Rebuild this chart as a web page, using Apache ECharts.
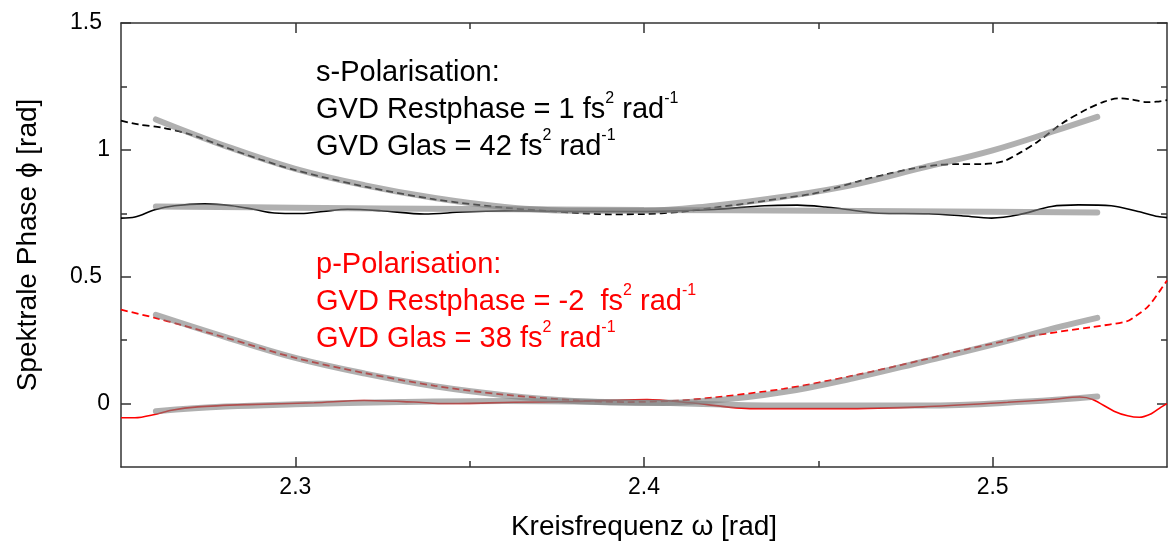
<!DOCTYPE html>
<html><head><meta charset="utf-8">
<script src="https://cdn.jsdelivr.net/npm/echarts@6/dist/echarts.min.js"></script>
<style>html,body{margin:0;padding:0;background:#fff}#c{width:1168px;height:545px}</style>
</head><body><div id="c"></div>
<script>
// ---- axis ticks ----
const xMajorTicks = [2.3, 2.4, 2.5];
const xMinorTicks = [2.35, 2.45];
const yMajorTicks = [0, 0.5, 1, 1.5];
const yMinorTicks = [0.25, 0.75, 1.25];

// ---- s-Polarisation: measured phase with glass (dashed black) ----
const sGlasX = [2.25, 2.255, 2.262, 2.27, 2.28, 2.29, 2.30, 2.32, 2.34, 2.36, 2.38, 2.39, 2.40, 2.41, 2.42, 2.43, 2.44, 2.448, 2.455, 2.462, 2.47, 2.477, 2.484, 2.49, 2.497, 2.503, 2.508, 2.513, 2.52, 2.527, 2.532, 2.536, 2.54, 2.544, 2.547, 2.55];
const sGlasY = [1.115, 1.10, 1.087, 1.06, 1.01, 0.962, 0.92, 0.855, 0.805, 0.772, 0.752, 0.746, 0.747, 0.755, 0.772, 0.79, 0.81, 0.826, 0.85, 0.878, 0.905, 0.926, 0.94, 0.944, 0.944, 0.955, 0.99, 1.033, 1.105, 1.16, 1.19, 1.203, 1.198, 1.188, 1.19, 1.196];
// ---- s-Polarisation: residual phase (solid black) ----
const sRestX = [2.25, 2.254, 2.2597, 2.2654, 2.274, 2.2817, 2.288, 2.294, 2.3017, 2.308, 2.315, 2.3246, 2.337, 2.348, 2.3626, 2.375, 2.39, 2.405, 2.42, 2.4346, 2.444, 2.452, 2.4577, 2.4674, 2.4817, 2.491, 2.4997, 2.5074, 2.5169, 2.5246, 2.534, 2.5417, 2.5474, 2.55];
const sRestY = [0.731, 0.735, 0.764, 0.78, 0.787, 0.78, 0.766, 0.751, 0.749, 0.757, 0.766, 0.76, 0.747, 0.755, 0.76, 0.758, 0.757, 0.758, 0.765, 0.78, 0.782, 0.775, 0.766, 0.75, 0.748, 0.740, 0.731, 0.744, 0.777, 0.783, 0.78, 0.757, 0.737, 0.733];
// ---- s-Polarisation fits (grey) ----
const sGlasFitX = [2.26, 2.28, 2.30, 2.32, 2.34, 2.36, 2.38, 2.40, 2.42, 2.44, 2.46, 2.48, 2.50, 2.52, 2.53];
const sGlasFitY = [1.12, 1.015, 0.925, 0.86, 0.81, 0.775, 0.76, 0.76, 0.78, 0.815, 0.862, 0.93, 0.998, 1.085, 1.13];
const sRestFitX = [2.26, 2.30, 2.35, 2.40, 2.45, 2.50, 2.53];
const sRestFitY = [0.777, 0.772, 0.767, 0.763, 0.76, 0.756, 0.753];

// ---- p-Polarisation: measured phase with glass (dashed red) ----
const pGlasX = [2.25, 2.26, 2.267, 2.28, 2.30, 2.32, 2.34, 2.36, 2.38, 2.395, 2.41, 2.42, 2.44, 2.46, 2.48, 2.4923, 2.5105, 2.5287, 2.5384, 2.541, 2.5446, 2.5482, 2.55];
const pGlasY = [0.37, 0.337, 0.311, 0.26, 0.18, 0.12, 0.07, 0.035, 0.013, 0.006, 0.012, 0.024, 0.058, 0.11, 0.172, 0.213, 0.265, 0.302, 0.324, 0.345, 0.383, 0.449, 0.485];
// ---- p-Polarisation: residual phase (solid red) ----
const pRestX = [2.25, 2.254, 2.2597, 2.2645, 2.272, 2.2863, 2.3054, 2.3197, 2.334, 2.3434, 2.3626, 2.38, 2.4009, 2.4131, 2.4313, 2.4557, 2.48, 2.5043, 2.5166, 2.525, 2.5287, 2.5348, 2.5387, 2.5421, 2.5455, 2.5482, 2.55];
const pRestY = [-0.056, -0.056, -0.043, -0.026, -0.013, -0.004, 0.003, 0.012, 0.006, 0.0, 0.005, 0.008, 0.016, 0.003, -0.02, -0.02, -0.013, 0.005, 0.016, 0.026, 0.016, -0.03, -0.048, -0.054, -0.04, -0.015, 0.0];
// ---- p-Polarisation fits (grey) ----
const pGlasFitX = [2.26, 2.28, 2.30, 2.32, 2.34, 2.36, 2.38, 2.40, 2.42, 2.44, 2.46, 2.48, 2.50, 2.52, 2.53];
const pGlasFitY = [0.35, 0.262, 0.18, 0.118, 0.068, 0.033, 0.01, 0.002, 0.012, 0.045, 0.10, 0.165, 0.232, 0.305, 0.338];
const pRestFitX = [2.26, 2.28, 2.30, 2.33, 2.36, 2.40, 2.44, 2.48, 2.51, 2.53];
const pRestFitY = [-0.03, -0.012, -0.003, 0.006, 0.01, 0.004, -0.008, -0.008, 0.008, 0.028];

// ---- texts ----
const xName = 'Kreisfrequenz \u03c9 [rad]';
const yName = 'Spektrale Phase \u03d5 [rad]';
const sText = 's-Polarisation:\nGVD Restphase = 1 fs{sup|2} rad{sup|-1}\nGVD Glas = 42 fs{sup|2} rad{sup|-1}';
const pText = 'p-Polarisation:\nGVD Restphase = -2  fs{sup|2} rad{sup|-1}\nGVD Glas = 38 fs{sup|2} rad{sup|-1}';

const FONT = "'Liberation Sans', Arial, Helvetica, sans-serif";
const zip = (xs, ys) => xs.map((x, i) => [x, ys[i]]);
const AX = { color: '#333', width: 1.5 };
const XMIN = 2.25, XMAX = 2.55, YMIN = -0.25, YMAX = 1.5;
const TICKFS = 23;

function xAx(pos, ticks, len, labels, showLine) {
  return {
    type: 'value', min: XMIN, max: XMAX, position: pos,
    axisLine: { show: showLine, onZero: false, lineStyle: AX },
    axisTick: { show: true, inside: true, length: len, customValues: ticks, lineStyle: AX },
    axisLabel: labels ? {
      customValues: xMajorTicks, formatter: v => v.toFixed(1),
      fontSize: TICKFS, color: '#000', fontFamily: FONT, margin: 9
    } : { show: false },
    splitLine: { show: false }
  };
}
function yAx(pos, ticks, len, labels, showLine) {
  return {
    type: 'value', min: YMIN, max: YMAX, position: pos,
    axisLine: { show: showLine, onZero: false, lineStyle: AX },
    axisTick: { show: true, inside: true, length: len, customValues: ticks, lineStyle: AX },
    axisLabel: labels ? {
      customValues: yMajorTicks,
      formatter: v => (Math.abs(v % 1) < 1e-9 ? '{i|' + v + '}' : '{d|' + v + '}'),
      margin: 11,
      rich: {
        i: { fontSize: TICKFS, color: '#000', fontFamily: FONT },
        d: { fontSize: TICKFS, color: '#000', fontFamily: FONT, padding: [0, 8, 0, 0] }
      }
    } : { show: false },
    splitLine: { show: false }
  };
}

const xAxes = [xAx('bottom', xMajorTicks, 10, true, true), xAx('bottom', xMinorTicks, 6, false, false),
               xAx('top', xMajorTicks, 10, false, true), xAx('top', xMinorTicks, 6, false, false)];
xAxes[0].name = xName; xAxes[0].nameLocation = 'middle'; xAxes[0].nameGap = 46;
xAxes[0].nameTextStyle = { fontSize: 28, color: '#000', fontFamily: FONT };
const yAxes = [yAx('left', yMajorTicks, 10, true, true), yAx('left', yMinorTicks, 6, false, false),
               yAx('right', yMajorTicks, 10, false, true), yAx('right', yMinorTicks, 6, false, false)];
yAxes[0].name = yName; yAxes[0].nameLocation = 'middle'; yAxes[0].nameGap = 79;
yAxes[0].nameTextStyle = { fontSize: 28, color: '#000', fontFamily: FONT };

function dataLine(d, color, dashed, w) {
  return { type: 'line', data: d, smooth: 0.3, symbol: 'none', showSymbol: false,
    xAxisIndex: 0, yAxisIndex: 0, silent: true,
    lineStyle: { color: color, width: w, type: dashed ? [7, 4] : 'solid' } };
}
function fitLine(d) {
  return { type: 'line', data: d, smooth: 0.4, symbol: 'none', showSymbol: false,
    xAxisIndex: 0, yAxisIndex: 0, silent: true,
    lineStyle: { color: '#808080', width: 6, opacity: 0.62, cap: 'round' } };
}

const supStyle = (c) => ({ fontSize: 16, lineHeight: 29, verticalAlign: 'top', fill: c, fontFamily: FONT });

const option = {
  animation: false,
  backgroundColor: '#fff',
  grid: { left: 121, right: 1, top: 23, bottom: 78, containLabel: false, outerBoundsMode: 'none' },
  xAxis: xAxes,
  yAxis: yAxes,
  series: [
    dataLine(zip(sGlasX, sGlasY), '#000', true, 1.8),
    dataLine(zip(sRestX, sRestY), '#000', false, 1.6),
    dataLine(zip(pGlasX, pGlasY), '#ff0000', true, 1.8),
    dataLine(zip(pRestX, pRestY), '#ff0000', false, 1.6),
    fitLine(zip(sGlasFitX, sGlasFitY)),
    fitLine(zip(sRestFitX, sRestFitY)),
    fitLine(zip(pGlasFitX, pGlasFitY)),
    fitLine(zip(pRestFitX, pRestFitY))
  ],
  graphic: [
    { type: 'text', x: 316, y: 54, silent: true,
      style: { text: sText, fill: '#000', fontSize: 29, fontFamily: FONT, lineHeight: 37,
        align: 'left', verticalAlign: 'top', rich: { sup: supStyle('#000') } } },
    { type: 'text', x: 316, y: 246, silent: true,
      style: { text: pText, fill: '#ff0000', fontSize: 29, fontFamily: FONT, lineHeight: 37,
        align: 'left', verticalAlign: 'top', rich: { sup: supStyle('#ff0000') } } }
  ]
};
const chart = echarts.init(document.getElementById('c'), null, { renderer: 'canvas' });
chart.setOption(option);
</script>
</body></html>
